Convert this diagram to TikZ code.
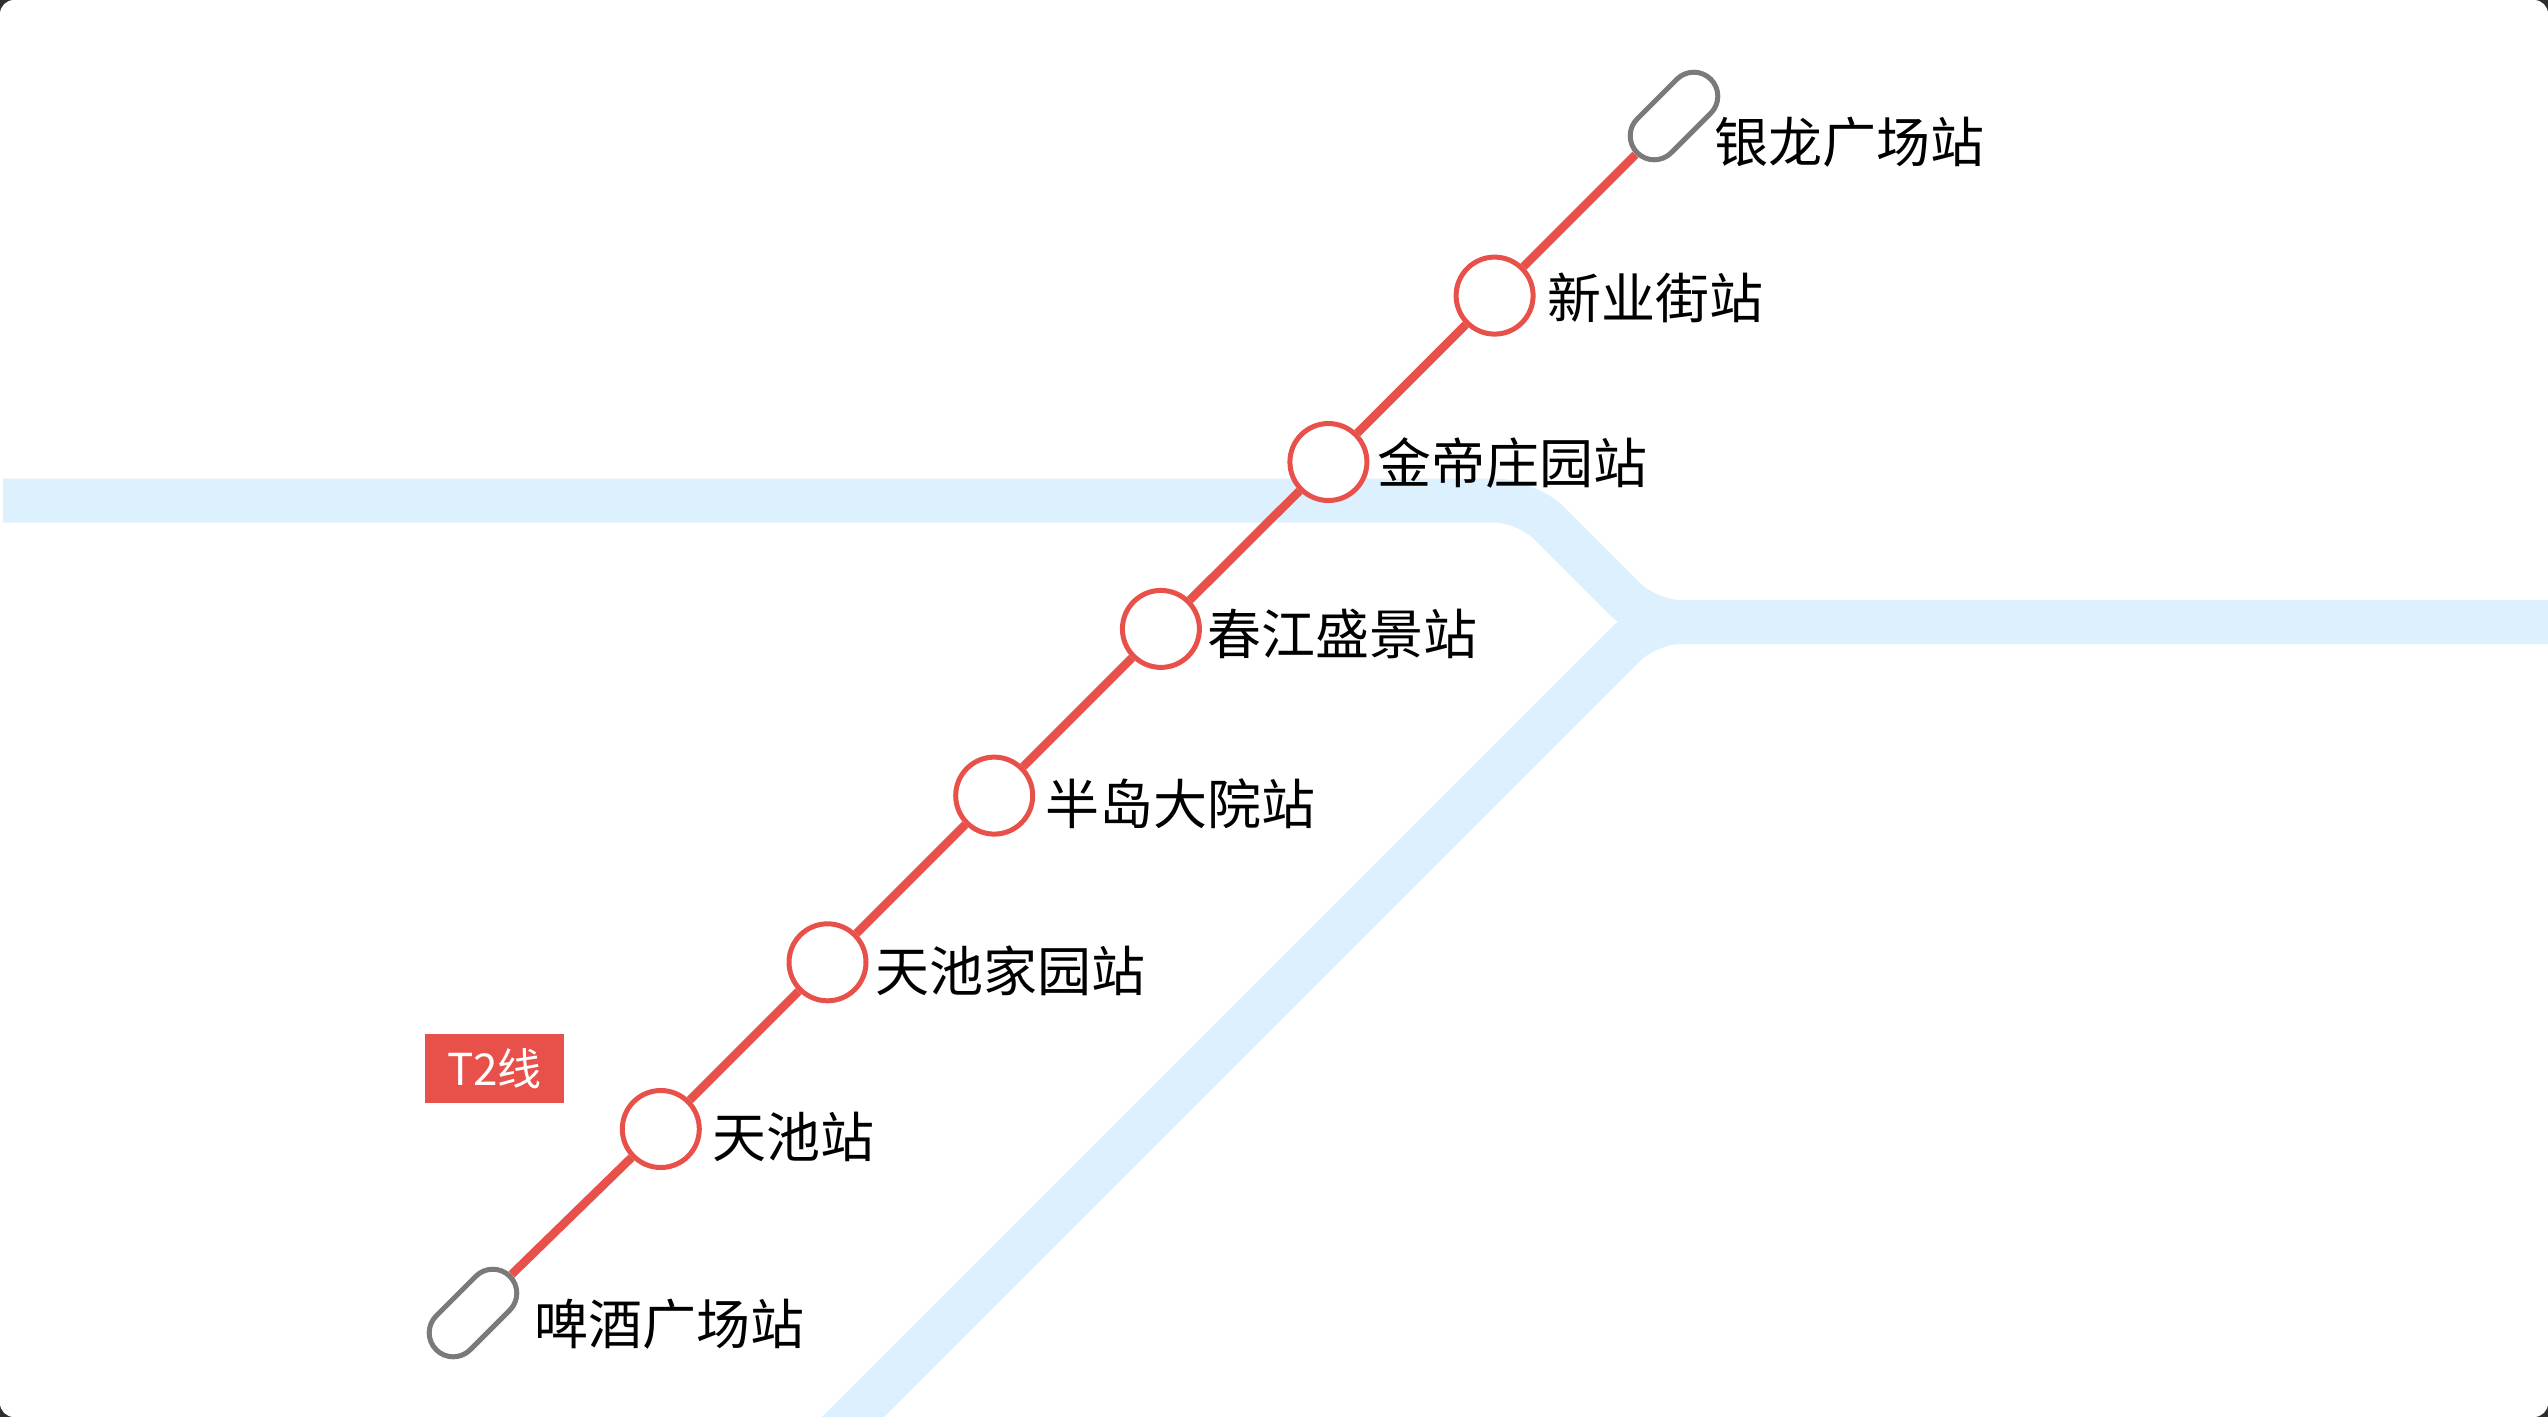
\documentclass[tikz,border=0pt]{standalone}
\usepackage{fontspec}
\newfontfamily\cjk{Noto Sans CJK SC}
\usetikzlibrary{backgrounds}
\definecolor{tred}{HTML}{E8504A}
\definecolor{bandblue}{HTML}{DDF0FD}
\definecolor{termgray}{HTML}{7A7A7A}
\definecolor{cornerdark}{HTML}{2E2E2E}
\tikzset{
  band/.style={draw=bandblue, line width=44pt, rounded corners=32pt},
  redline/.style={draw=tred, line width=8.5pt},
  stn/.style={circle, draw=tred, line width=5pt, fill=white, minimum size=77pt, inner sep=0pt},
  term/.style={rectangle, draw=termgray, line width=5pt, fill=white, rounded corners=24pt,
               minimum width=104pt, minimum height=48pt, inner sep=0pt, rotate=45},
  lbl/.style={anchor=west, inner sep=0pt, font=\cjk\fontsize{54pt}{60pt}\selectfont, text=black},
  linebadge/.style={rectangle, fill=tred, text=white, minimum width=139pt, minimum height=69pt,
               inner sep=0pt, font=\cjk\fontsize{44pt}{50pt}\selectfont}
}
\begin{document}
\begin{tikzpicture}[x=1pt,y=-1pt]
\useasboundingbox (0,0) rectangle (2548,1417);
\begin{scope}[on background layer]
  \fill[cornerdark] (0,0) rectangle (2548,1417);
  \fill[white, rounded corners=14pt] (0,0) rectangle (2548,1417);
  \begin{scope}
    \clip[rounded corners=14pt] (0,0) rectangle (2548,1417);
    \coordinate (bw) at (3,500.5);
    \coordinate (bc) at (1526.5,500.5);
    \coordinate (bj) at (1648,622);
    \coordinate (be) at (2570,622);
    \coordinate (bs) at (836,1434);
    \path[band] (bw) -- (bc) -- (bj) -- (be);
    \path[band] (bs) -- (bj) -- (be);
  \end{scope}
\end{scope}

% terminals
\node[term] (tA) at (473,1313) {};
\node[term] (tB) at (1674,116) {};
% stations
\node[stn] (s1) at (660.8,1129) {};
\node[stn] (s2) at (827.5,962.3) {};
\node[stn] (s3) at (994.2,795.6) {};
\node[stn] (s4) at (1160.9,628.9) {};
\node[stn] (s5) at (1328.4,462) {};
\node[stn] (s6) at (1494.6,295.6) {};

\begin{scope}[on background layer]
  \draw[redline] (tA.east) -- (s1) -- (s2) -- (s3) -- (s4) -- (s5) -- (s6) -- (tB.west);
\end{scope}

% labels
\node[lbl] (l0) at (1714,142.5) {银龙广场站};
\node[lbl] (l6) at (1547,297.5) {新业街站};
\node[lbl] (l5) at (1377,463) {金帝庄园站};
\node[lbl] (l4) at (1207,634) {春江盛景站};
\node[lbl] (l3) at (1045,803.5) {半岛大院站};
\node[lbl] (l2) at (875,971) {天池家园站};
\node[lbl] (l1) at (712,1137) {天池站};
\node[lbl] (lA) at (534,1324) {啤酒广场站};

\node[linebadge] (badge) at (494.5,1068.5) {T2线};
\end{tikzpicture}
\end{document}
